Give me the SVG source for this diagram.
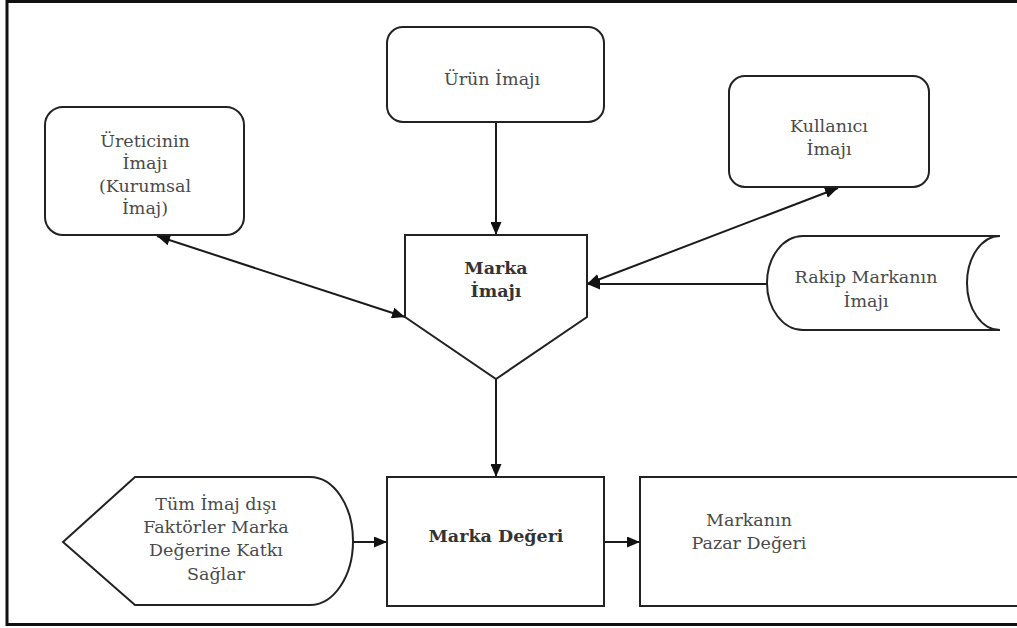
<svg xmlns="http://www.w3.org/2000/svg" width="1017" height="628" viewBox="0 0 1017 628">
<defs>
<marker id="ah" viewBox="0 0 13 11" refX="13" refY="5.5" markerWidth="13" markerHeight="11" markerUnits="userSpaceOnUse" orient="auto-start-reverse">
<path d="M0,0 L13,5.5 L0,11 Z" fill="#111"/>
</marker>
<style>
.shape{fill:#fff;stroke:#222;stroke-width:2}
.conn{stroke:#1a1a1a;stroke-width:2;fill:none}
.t{font-family:"DejaVu Serif","Liberation Serif",serif;font-size:17.5px;fill:#4a4a4a;text-anchor:middle}
.b{font-weight:bold;fill:#333}
</style>
</defs>
<rect x="0" y="0" width="1017" height="628" fill="#fff"/>
<g id="frame" fill="none" stroke="#111">
<line x1="7" y1="1.5" x2="1017" y2="1.5" stroke-width="3"/>
<line x1="7" y1="0" x2="7" y2="626" stroke-width="3"/>
<line x1="7" y1="624.5" x2="1017" y2="624.5" stroke-width="3"/>
</g>
<g id="connectors">
<line class="conn" x1="496" y1="122" x2="496" y2="235" marker-end="url(#ah)"/>
<line class="conn" x1="157" y1="236" x2="405" y2="317" marker-start="url(#ah)" marker-end="url(#ah)"/>
<line class="conn" x1="838" y1="188" x2="587" y2="284" marker-start="url(#ah)" marker-end="url(#ah)"/>
<line class="conn" x1="767" y1="284" x2="587" y2="284" marker-end="url(#ah)"/>
<line class="conn" x1="496" y1="379" x2="496" y2="477" marker-end="url(#ah)"/>
<line class="conn" x1="353" y1="542" x2="387" y2="542" marker-end="url(#ah)"/>
<line class="conn" x1="604" y1="542" x2="640" y2="542" marker-end="url(#ah)"/>
</g>
<g id="urun">
<rect class="shape" x="387" y="27" width="217" height="95" rx="16"/>
<text class="t" x="492" y="85">Ürün İmajı</text>
</g>
<g id="ureticinin">
<rect class="shape" x="45" y="107" width="199" height="128" rx="18"/>
<text class="t" x="145" y="147">Üreticinin</text>
<text class="t" x="145" y="169">İmajı</text>
<text class="t" x="145" y="192">(Kurumsal</text>
<text class="t" x="145" y="214">İmaj)</text>
</g>
<g id="kullanici">
<rect class="shape" x="729" y="76" width="200" height="111" rx="16"/>
<text class="t" x="829" y="132">Kullanıcı</text>
<text class="t" x="829" y="155">İmajı</text>
</g>
<g id="marka-imaji">
<path class="shape" d="M405,235 L587,235 L587,317 L496,379 L405,317 Z"/>
<text class="t b" x="496" y="274">Marka</text>
<text class="t b" x="496" y="297">İmajı</text>
</g>
<g id="rakip">
<path class="shape" d="M803,236 L1000,236 A33,47 0 0 0 1000,330 L803,330 A36,47 0 0 1 803,236 Z"/>
<text class="t" x="866" y="283">Rakip Markanın</text>
<text class="t" x="866" y="307">İmajı</text>
</g>
<g id="tum-imaj">
<path class="shape" d="M63,542 L135,477 L310,477 A43,64 0 0 1 310,605 L135,605 Z"/>
<text class="t" x="216" y="510">Tüm İmaj dışı</text>
<text class="t" x="216" y="533">Faktörler Marka</text>
<text class="t" x="216" y="556">Değerine Katkı</text>
<text class="t" x="216" y="580">Sağlar</text>
</g>
<g id="marka-degeri">
<rect class="shape" x="387" y="477" width="217" height="129"/>
<text class="t b" x="496" y="542">Marka Değeri</text>
</g>
<g id="pazar-degeri">
<rect class="shape" x="640" y="477" width="420" height="129"/>
<text class="t" x="749" y="526">Markanın</text>
<text class="t" x="749" y="549">Pazar Değeri</text>
</g>
</svg>
